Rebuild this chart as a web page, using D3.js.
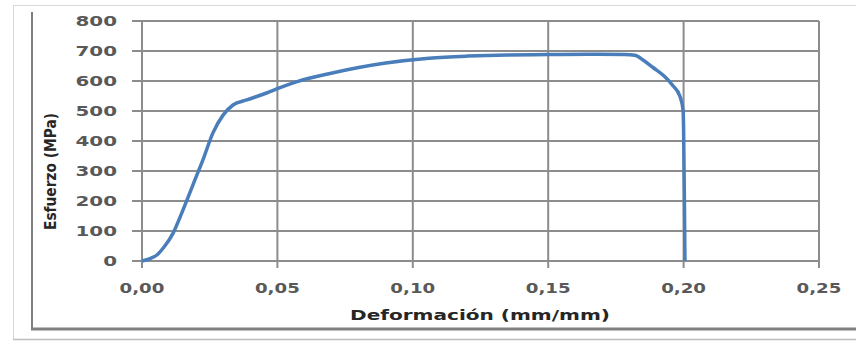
<!DOCTYPE html>
<html>
<head>
<meta charset="utf-8">
<script src="https://cdn.jsdelivr.net/npm/d3@7"></script>
<style>
  body { margin: 0; background: #fff; }
  svg { display: block; }
</style>
</head>
<body>
<div id="canvas-body"></div>
<script>
// data: strain (mm/mm) and stress (MPa)
var strain = [0, 0.003, 0.0055, 0.008, 0.0115, 0.014, 0.0166, 0.019, 0.0225, 0.0262, 0.030, 0.0336,
              0.0387, 0.046, 0.051, 0.057, 0.0694, 0.08, 0.09, 0.106, 0.12, 0.135, 0.15, 0.165, 0.178,
              0.182, 0.185, 0.1887, 0.193, 0.196, 0.1986, 0.1998, 0.2, 0.2003, 0.2005];
var stress = [0, 8, 20, 45, 93, 145, 203, 258, 337, 427, 487, 520,
              537, 560, 578, 597, 625, 645, 660, 676, 683, 687, 688, 689, 688,
              686, 670, 645, 615, 585, 550, 503, 440, 200, 0];

var xTicks = [0, 0.05, 0.10, 0.15, 0.20, 0.25];
var yTicks = [0, 100, 200, 300, 400, 500, 600, 700, 800];

const width = 856, height = 341;
var plot = {left: 142, right: 819, top: 21, bottom: 261};

var s = d3.select("#canvas-body").append("svg")
    .attr("width", width).attr("height", height);

// picture frame
s.append("rect").attr("x", 13.5).attr("y", 5.5).attr("width", 850).attr("height", 334)
    .attr("fill", "none").attr("stroke", "#d8d8d8").attr("stroke-width", 1);
s.append("line").attr("x1", 32).attr("x2", 32).attr("y1", 12).attr("y2", 330)
    .attr("stroke", "#808080").attr("stroke-width", 2);
s.append("line").attr("x1", 31).attr("x2", 856).attr("y1", 329).attr("y2", 329)
    .attr("stroke", "#808080").attr("stroke-width", 3);
s.append("line").attr("x1", 13).attr("x2", 856).attr("y1", 339.5).attr("y2", 339.5)
    .attr("stroke", "#bdbdbd").attr("stroke-width", 1.5);

// scales
var xs = d3.scaleLinear().domain([0, 0.25]).range([plot.left, plot.right]);
var ys = d3.scaleLinear().domain([0, 800]).range([plot.bottom, plot.top]);

var fmt = function(v){ return v.toFixed(2).replace(".", ","); };

// grid
var grid = s.append("g");
grid.selectAll(".hg").data(yTicks).enter().append("line")
    .attr("x1", plot.left - 10).attr("x2", plot.right)
    .attr("y1", function(d){ return ys(d); }).attr("y2", function(d){ return ys(d); })
    .attr("stroke", "#8c8c8c").attr("stroke-width", 2);
grid.selectAll(".vg").data(xTicks).enter().append("line")
    .attr("x1", function(d){ return xs(d); }).attr("x2", function(d){ return xs(d); })
    .attr("y1", plot.top).attr("y2", plot.bottom + 7)
    .attr("stroke", "#8c8c8c").attr("stroke-width", 2);

// tick labels
s.selectAll(".yl").data(yTicks).enter().append("text")
    .attr("transform", function(d){ return "translate(117," + (ys(d) + 5) + ") scale(1.42,1)"; })
    .attr("text-anchor", "end")
    .attr("font-family", "DejaVu Sans").attr("font-weight", "bold").attr("font-size", 14)
    .attr("fill", "#595959")
    .text(function(d){ return d; });
s.selectAll(".xl").data(xTicks).enter().append("text")
    .attr("transform", function(d){ return "translate(" + xs(d) + ",293) scale(1.3,1)"; })
    .attr("text-anchor", "middle")
    .attr("font-family", "DejaVu Sans").attr("font-weight", "bold").attr("font-size", 14)
    .attr("fill", "#595959")
    .text(function(d){ return fmt(d); });

// axis titles
s.append("text")
    .attr("x", 350).attr("y", 320)
    .attr("textLength", 260).attr("lengthAdjust", "spacingAndGlyphs")
    .attr("font-family", "DejaVu Sans").attr("font-weight", "bold").attr("font-size", 14)
    .attr("fill", "#262626")
    .text("Deformación (mm/mm)");
s.append("text")
    .attr("transform", "translate(56,230) rotate(-90)")
    .attr("textLength", 117).attr("lengthAdjust", "spacingAndGlyphs")
    .attr("font-family", "DejaVu Sans").attr("font-weight", "bold").attr("font-size", 15)
    .attr("fill", "#262626")
    .text("Esfuerzo (MPa)");

// curve
var pts = strain.map(function(d, i){ return [d, stress[i]]; });
var linefunc = d3.line()
    .x(function(d){ return xs(d[0]); })
    .y(function(d){ return ys(d[1]); })
    .curve(d3.curveMonotoneX);
s.append("path")
    .attr("d", linefunc(pts))
    .attr("fill", "none")
    .attr("stroke", "#4a7ebb")
    .attr("stroke-width", 3.5)
    .attr("stroke-linejoin", "round");
</script>
</body>
</html>
